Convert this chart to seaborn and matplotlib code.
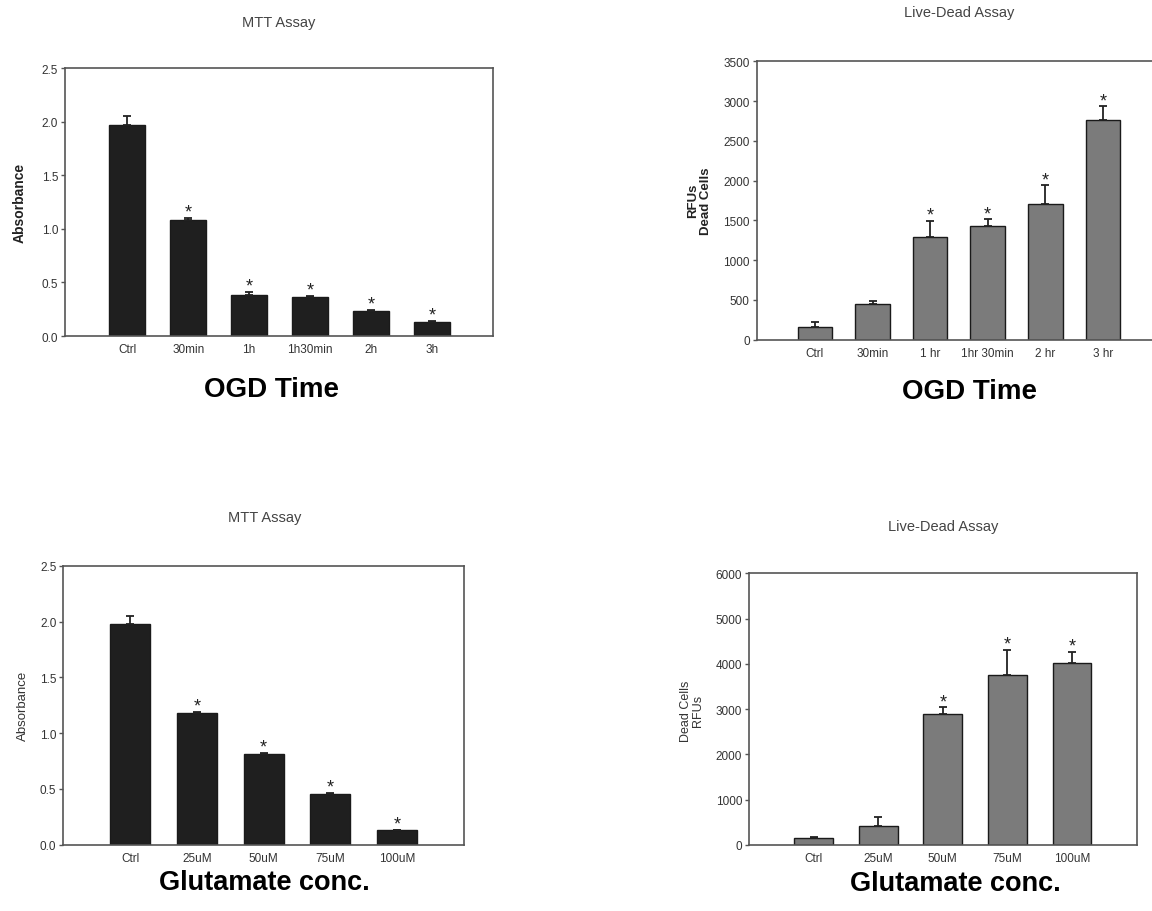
import numpy as np
import pandas as pd
import matplotlib
matplotlib.use("Agg")
import matplotlib.pyplot as plt
from matplotlib.ticker import FormatStrFormatter
import seaborn as sns

# ── DATA ──────────────────────────────────────────────────
# OGD time course
ogd_mtt_labels = ["Ctrl", "30min", "1h", "1h30min", "2h", "3h"]
ogd_mtt_mean = [1.97, 1.085, 0.385, 0.36, 0.237, 0.134]
ogd_mtt_err = [0.08, 0.015, 0.025, 0.015, 0.009, 0.009]
ogd_mtt_sig = [False, True, True, True, True, True]

ogd_ld_labels = ["Ctrl", "30min", "1 hr", "1hr 30min", "2 hr", "3 hr"]
ogd_ld_mean = [163, 448, 1287, 1425, 1706, 2762]
ogd_ld_err = [59, 42, 209, 88, 234, 172]
ogd_ld_sig = [False, False, True, True, True, True]

# glutamate concentration
glu_labels = ["Ctrl", "25uM", "50uM", "75uM", "100uM"]
glu_mtt_mean = [1.982, 1.18, 0.814, 0.458, 0.129]
glu_mtt_err = [0.068, 0.009, 0.009, 0.005, 0.006]
glu_mtt_sig = [False, True, True, True, True]

glu_ld_mean = [162, 427, 2893, 3747, 4012]
glu_ld_err = [22, 184, 147, 567, 251]
glu_ld_sig = [False, False, True, True, True]

# ── STYLE ─────────────────────────────────────────────────
sns.set_theme(style="white")
plt.rcParams['font.family'] = ['Liberation Sans', 'DejaVu Sans']

W, H = 1152, 912
fig = plt.figure(figsize=(W / 100, H / 100), dpi=100)
fig.patch.set_facecolor("white")

DARK = "#1f1f1f"
GREY = "#7b7b7b"


def box(left, top, right, bottom):
    # pixel box -> figure fraction rect
    return [left / W, 1 - bottom / H, (right - left) / W, (bottom - top) / H]


def ftext(x, y, s, **kw):
    fig.text(x / W, 1 - y / H, s, ha="center", va="center", **kw)


def panel(rect, labels, mean, err, sig, color, ymax, ystep, fmt, xlim):
    ax = fig.add_axes(rect)
    df = pd.DataFrame({"group": labels, "value": mean})
    sns.barplot(data=df, x="group", y="value", color=color, width=0.6,
                errorbar=None, saturation=1, edgecolor="#1a1a1a",
                linewidth=1, ax=ax)
    x = np.arange(len(labels))
    ax.errorbar(x, mean, yerr=[np.zeros(len(err)), err], fmt="none",
                ecolor="#222222", elinewidth=1.3, capsize=3, capthick=1.3)
    for xi, m, e, s in zip(x, mean, err, sig):
        if s:
            ax.annotate("*", (xi, m + e), xytext=(0, -2),
                        textcoords="offset points", ha="center", va="bottom",
                        fontsize=13, color="#222222")
    ax.set_xlim(*xlim)
    ax.set_ylim(0, ymax)
    ax.set_yticks(np.arange(0, ymax + ystep / 2, ystep))
    ax.yaxis.set_major_formatter(FormatStrFormatter(fmt))
    ax.set_xlabel("")
    ax.set_ylabel("")
    for sp in ax.spines.values():
        sp.set_visible(True)
        sp.set_color("#555555")
        sp.set_linewidth(1.2)
    ax.tick_params(axis="y", left=True, length=3, width=1, color="#555555",
                   pad=2, labelsize=8.5, labelcolor="#333333", direction="out")
    ax.tick_params(axis="x", bottom=False, length=0, pad=5, labelsize=8.5,
                   labelcolor="#333333")
    return ax


# ── PANELS ────────────────────────────────────────────────
panel(box(65, 69, 493, 337), ogd_mtt_labels, ogd_mtt_mean, ogd_mtt_err,
      ogd_mtt_sig, DARK, 2.5, 0.5, "%.1f", (-1.02, 6))
panel(box(756.7, 62.3, 1160.6, 340.7), ogd_ld_labels, ogd_ld_mean, ogd_ld_err,
      ogd_ld_sig, GREY, 3500, 500, "%d", (-1.01, 6))
panel(box(63.3, 567, 464, 845.7), glu_labels, glu_mtt_mean, glu_mtt_err,
      glu_mtt_sig, DARK, 2.5, 0.5, "%.1f", (-1, 5))
panel(box(749, 574.3, 1136.7, 846), glu_labels, glu_ld_mean, glu_ld_err,
      glu_ld_sig, GREY, 6000, 1000, "%d", (-1, 5))

# titles
ftext(279, 23, "MTT Assay", fontsize=10.5, color="#444444")
ftext(959, 13, "Live-Dead Assay", fontsize=10.5, color="#444444")
ftext(265, 518, "MTT Assay", fontsize=10.5, color="#444444")
ftext(943, 527, "Live-Dead Assay", fontsize=10.5, color="#444444")

# y labels
ftext(20, 203, "Absorbance", fontsize=10, fontweight="bold", rotation=90,
      color="#222222")
ftext(700, 201, "RFUs\nDead Cells", fontsize=9.5, fontweight="bold",
      rotation=90, color="#222222", linespacing=1.1)
ftext(23, 706, "Absorbance", fontsize=9.5, rotation=90, color="#333333")
ftext(692, 711, "Dead Cells\nRFUs", fontsize=9, rotation=90, color="#333333",
      linespacing=1.0)

# big x captions
ftext(272, 390, "OGD Time", fontsize=20, fontweight="bold", color="black")
ftext(969, 392, "OGD Time", fontsize=20, fontweight="bold", color="black")
ftext(264, 883, "Glutamate conc.", fontsize=19.5, fontweight="bold",
      color="black")
ftext(955, 884, "Glutamate conc.", fontsize=19.5, fontweight="bold",
      color="black")

fig.savefig("out.png", dpi=100, facecolor="white")
